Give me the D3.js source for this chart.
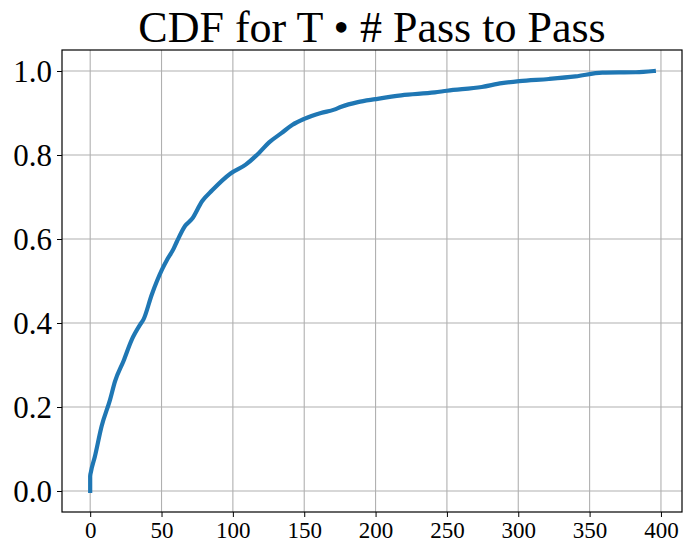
<!DOCTYPE html>
<html>
<head>
<meta charset="utf-8">
<script src="https://cdn.jsdelivr.net/npm/d3@7"></script>
<style>
  body { margin: 0; background: #fff; }
  svg { display: block; }
</style>
</head>
<body>
<svg id="chart" width="691" height="556"></svg>
<script>
// values
var passCounts = [0, 0, 0.5, 3.3, 8, 13.9, 17.4, 23.3, 29.1, 35, 37.3, 43.2, 50.3, 53.8, 58.5, 60.8, 66.7,
                  71.4, 78.4, 85.5, 98.4, 109, 118.3, 125.4, 134, 141.8, 150, 161.7, 171, 176,
                  187.6, 200, 218, 241.5, 250, 274.4, 288.5, 300.7, 321.4, 340.1, 358.9, 382.4, 395];
var cdfValues = [0, 0.035, 0.045, 0.082, 0.154, 0.217, 0.261, 0.309, 0.36, 0.396, 0.408, 0.468, 0.527, 0.55, 0.577, 0.594, 0.632,
                 0.648, 0.69, 0.716, 0.756, 0.777, 0.805, 0.83, 0.852, 0.872, 0.886, 0.9, 0.908, 0.915,
                 0.926, 0.933, 0.942, 0.949, 0.953, 0.962, 0.971, 0.976, 0.981, 0.987, 0.996, 0.997, 1.0];
var xTicks = [0, 50, 100, 150, 200, 250, 300, 350, 400];
var yTicks = [0.0, 0.2, 0.4, 0.6, 0.8, 1.0];
var chartTitle = "CDF for T \u2022 # Pass to Pass";

var serif = "'Liberation Serif', 'Times New Roman', Times, serif";
var margin = {top: 50, right: 9, bottom: 44, left: 62};
var width = 691 - margin.left - margin.right;
var height = 556 - margin.top - margin.bottom;

var svg = d3.select("#chart");
var g = svg.append("g").attr("transform", "translate(" + margin.left + "," + margin.top + ")");

var xMax = d3.max(passCounts);
var xPad = xMax * 0.05;
var x = d3.scaleLinear().domain([-xPad, xMax + xPad]).range([0, width]);
var y = d3.scaleLinear().domain([-0.05, 1.05]).range([height, 0]);

// grid
g.append("g")
    .selectAll("line")
    .data(xTicks)
    .enter().append("line")
    .attr("x1", function(d) { return x(d); })
    .attr("x2", function(d) { return x(d); })
    .attr("y1", 0)
    .attr("y2", height)
    .style("stroke", "#b0b0b0")
    .style("stroke-width", 1.1);
g.append("g")
    .selectAll("line")
    .data(yTicks)
    .enter().append("line")
    .attr("x1", 0)
    .attr("x2", width)
    .attr("y1", function(d) { return y(d); })
    .attr("y2", function(d) { return y(d); })
    .style("stroke", "#b0b0b0")
    .style("stroke-width", 1.1);

// the cdf line
var line = d3.line()
    .x(function(d, i) { return x(passCounts[i]); })
    .y(function(d) { return y(d); })
    .curve(d3.curveMonotoneX);

g.append("path")
    .datum(cdfValues)
    .attr("d", line)
    .style("fill", "none")
    .style("stroke", "#1f77b4")
    .style("stroke-width", 4.2)
    .style("stroke-linecap", "square")
    .style("stroke-linejoin", "round");

// axes
var xAxis = g.append("g")
    .attr("transform", "translate(0," + height + ")")
    .call(d3.axisBottom(x).tickValues(xTicks).tickSize(5).tickPadding(5).tickFormat(d3.format("d")));
xAxis.attr("font-family", null);
xAxis.selectAll("text")
    .style("font-family", serif)
    .style("font-size", "23px")
    .style("fill", "#000");

var yAxis = g.append("g")
    .call(d3.axisLeft(y).tickValues(yTicks).tickSize(5).tickPadding(5).tickFormat(d3.format(".1f")));
yAxis.attr("font-family", null);
yAxis.selectAll("text")
    .style("font-family", serif)
    .style("font-size", "31px")
    .style("fill", "#000")
    .attr("dy", "0.35em");

g.selectAll(".domain").remove();
g.selectAll(".tick line").style("stroke", "#000").style("stroke-width", 1);

// frame
g.append("rect")
    .attr("width", width)
    .attr("height", height)
    .style("fill", "none")
    .style("stroke", "#000")
    .style("stroke-width", 1.2);

// title
svg.append("text")
    .attr("x", margin.left + width / 2)
    .attr("y", 42)
    .attr("text-anchor", "middle")
    .style("font-family", serif)
    .style("font-size", "44px")
    .text(chartTitle);
</script>
</body>
</html>
